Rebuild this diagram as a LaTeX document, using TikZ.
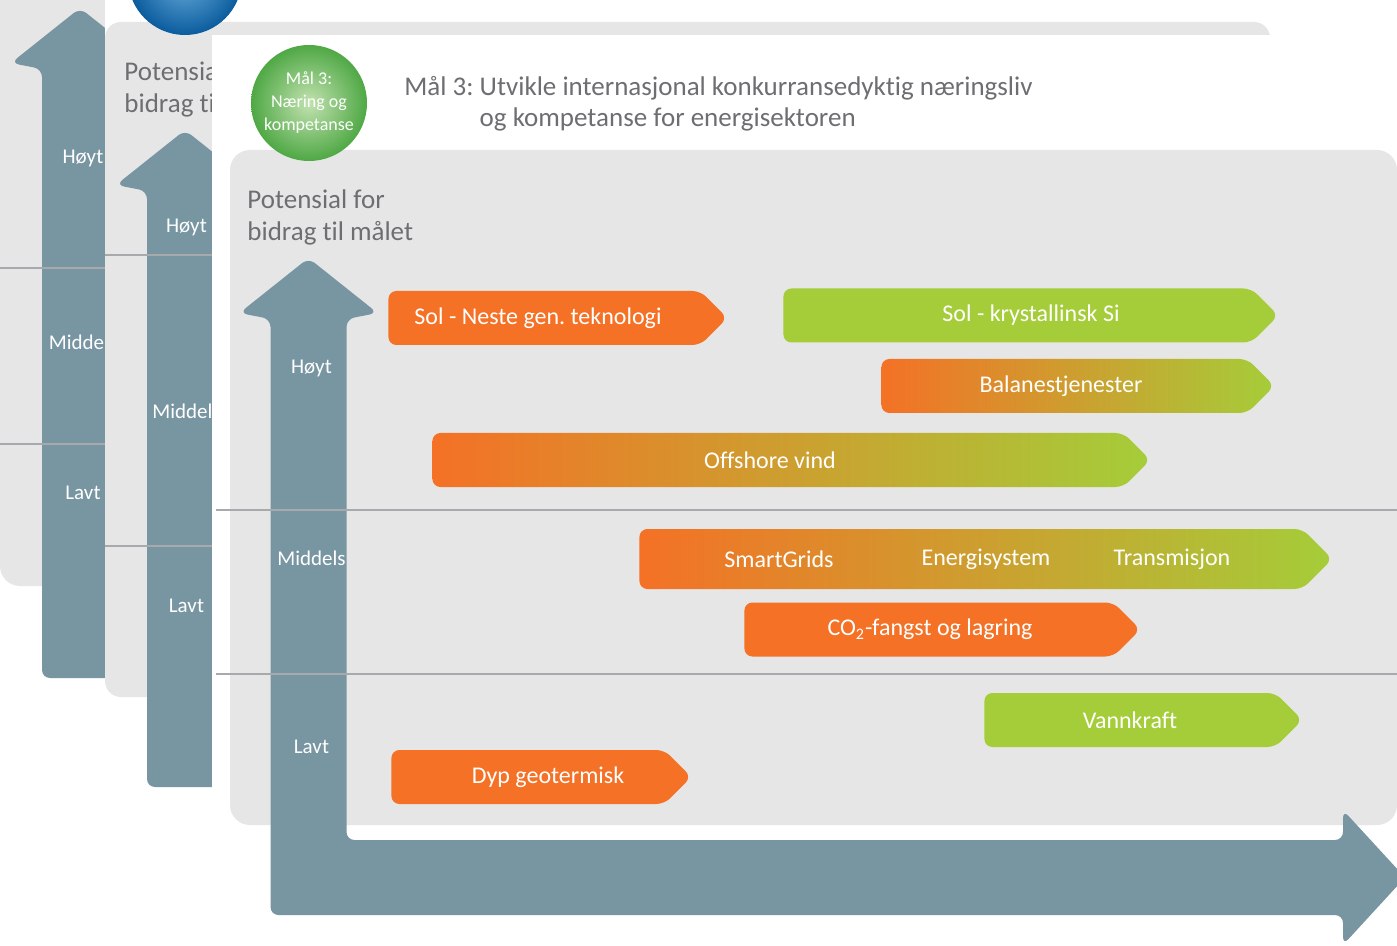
\documentclass[tikz,border=0pt]{standalone}
\usepackage{fontspec}
\setmainfont{Carlito}[Ligatures=NoCommon]
\usepackage{tikz}
\usetikzlibrary{shapes.symbols}
\definecolor{panelgray}{HTML}{E6E6E6}
\definecolor{arrowblue}{HTML}{7895A2}
\definecolor{rulegray}{HTML}{A7A9AC}
\definecolor{titlegray}{HTML}{6D6E71}
\definecolor{techorange}{HTML}{F47126}
\definecolor{techgreen}{HTML}{A5CD39}
\definecolor{goalgreen}{HTML}{4FA845}
\definecolor{goalgreenlight}{HTML}{C2E2B0}
\definecolor{goalblue}{HTML}{0B5C9E}
\definecolor{goalbluelight}{HTML}{6AAEDC}
\frenchspacing
\tikzstyle{techbar}=
[shape=signal,signal to=east,signal pointer angle=90,rounded corners=4pt,
inner sep=0pt,minimum height=27pt,anchor=west]
\tikzstyle{bartext}=
[text=white,font=\fontsize{12}{14}\selectfont]
\tikzstyle{levellabel}=
[text=white,font=\fontsize{10.5}{12}\selectfont]
\tikzstyle{scaleline}=
[rulegray,line width=1pt]
\tikzstyle{potensial}=
[text=titlegray,font=\fontsize{13.5}{16}\selectfont,align=left,anchor=west,inner sep=0pt]
% #1 centre x, #2 tip y, #3 bottom y
\newcommand{\levelarrow}[3]{%
\fill[arrowblue,rounded corners=4pt]
({#1-38},{#3-200})--({#1-38},{#2+61})--({#1-69},{#2+55})--(#1,#2)
--({#1+69},{#2+55})--({#1+38},{#2+61})--({#1+38},{#3-75})
--(1343,{#3-75})--(1343,{#3-105})--(1405,{#3-37.5})--(1343,{#3+30})
--(1343,#3)--({#1-38},#3)--cycle;}

\begin{document}
\begin{tikzpicture}[x=0.5pt,y=-0.5pt]
\useasboundingbox (0,0) rectangle (1397,946);
\clip (0,0) rectangle (1397,946);
\fill[white] (0,0) rectangle (1397,946);

% goal 1 (back)
\fill[panelgray,rounded corners=10pt] (0,-300) rectangle (1397,586);
\levelarrow{80}{8}{678}
\draw[scaleline] (0,268)--(1397,268);
\draw[scaleline] (0,444)--(1397,444);
\node (hoytA) [levellabel] at (83,158) {Høyt};
\node (middelsA) [levellabel] at (83,342) {Middels};
\node (lavtA) [levellabel] at (83,493) {Lavt};

% goal 2
\fill[white] (105,-300) rectangle (1500,1000);
\fill[panelgray,rounded corners=8pt] (105,22) rectangle (1270,697);
\node (goaltwo)
[circle,
minimum size=57pt,
inner sep=0pt,
inner color=goalbluelight,
outer color=goalblue]
at (185,-22) {};
\node (potensialB) [potensial] at (124,90) {Potensia\\bidrag ti};
\levelarrow{185}{130}{787}
\draw[scaleline] (105,255)--(1397,255);
\draw[scaleline] (105,546)--(1397,546);
\node (hoytB) [levellabel] at (186.5,227) {Høyt};
\node (middelsB) [levellabel] at (186.5,411) {Middels};
\node (lavtB) [levellabel] at (186.5,606) {Lavt};

% goal 3 (front)
\fill[white] (212,35) rectangle (1500,1000);
\fill[panelgray,rounded corners=10pt] (230,150) rectangle (1397,825);
\node (goalthree)
[circle,
minimum size=58pt,
inner sep=0pt,
inner color=goalgreenlight,
outer color=goalgreen,
text=white,
align=center,
font=\fontsize{9}{11.5}\selectfont]
at (309,103) {Mål 3:\\Næring og\\kompetanse};
\node (goaltitle)
[text=titlegray,
font=\fontsize{13.5}{15.5}\selectfont,
anchor=west,
inner sep=0pt]
at (404,105)
{\begin{tabular}{@{}l@{\ }l@{}}Mål 3: & Utvikle internasjonal konkurransedyktig næringsliv\\
& og kompetanse for energisektoren\end{tabular}};
\node (potensialC) [potensial] at (247,217) {Potensial for\\bidrag til målet};
\levelarrow{308.5}{258}{915}
\draw[scaleline] (216,510)--(1397,510);
\draw[scaleline] (216,674)--(1397,674);
\node (hoytC) [levellabel] at (311.5,368) {Høyt};
\node (middelsC) [levellabel] at (311.5,558) {Middels};
\node (lavtC) [levellabel] at (311.5,747) {Lavt};

% technologies
\node (solneste) [techbar,minimum width=169.5pt,fill=techorange] at (388,318) {};
\node (solnestetxt) [bartext] at (538,318) {Sol - Neste gen. teknologi};
\node (solkrys) [techbar,minimum width=247.5pt,fill=techgreen] at (783,315.5) {};
\node (solkrystxt) [bartext] at (1031,315.5) {Sol - krystallinsk Si};
\node (balanse) [techbar,minimum width=196.5pt,left color=techorange,right color=techgreen] at (881,386) {};
\node (balansetxt) [bartext] at (1061,386) {Balanestjenester};
\node (offshore) [techbar,minimum width=359pt,left color=techorange,right color=techgreen] at (432,460) {};
\node (offshoretxt) [bartext] at (770,460) {Offshore vind};
\node (smartbar) [techbar,minimum width=346.5pt,minimum height=30pt,left color=techorange,right color=techgreen] at (639,559) {};
\node (smarttxt) [bartext] at (779,559) {SmartGrids};
\node (energitxt) [bartext] at (986,559) {Energisystem};
\node (transtxt) [bartext] at (1172,559) {Transmisjon};
\node (co2) [techbar,minimum width=198pt,fill=techorange] at (744,629.5) {};
\node (co2txt) [bartext] at (930,629.5) {CO\textsubscript{2}-fangst og lagring};
\node (vannkraft) [techbar,minimum width=159pt,fill=techgreen] at (984,720) {};
\node (vannkrafttxt) [bartext] at (1130,720) {Vannkraft};
\node (dypgeo) [techbar,minimum width=150pt,fill=techorange] at (391,777) {};
\node (dypgeotxt) [bartext] at (548,777) {Dyp geotermisk};
\end{tikzpicture}
\end{document}
